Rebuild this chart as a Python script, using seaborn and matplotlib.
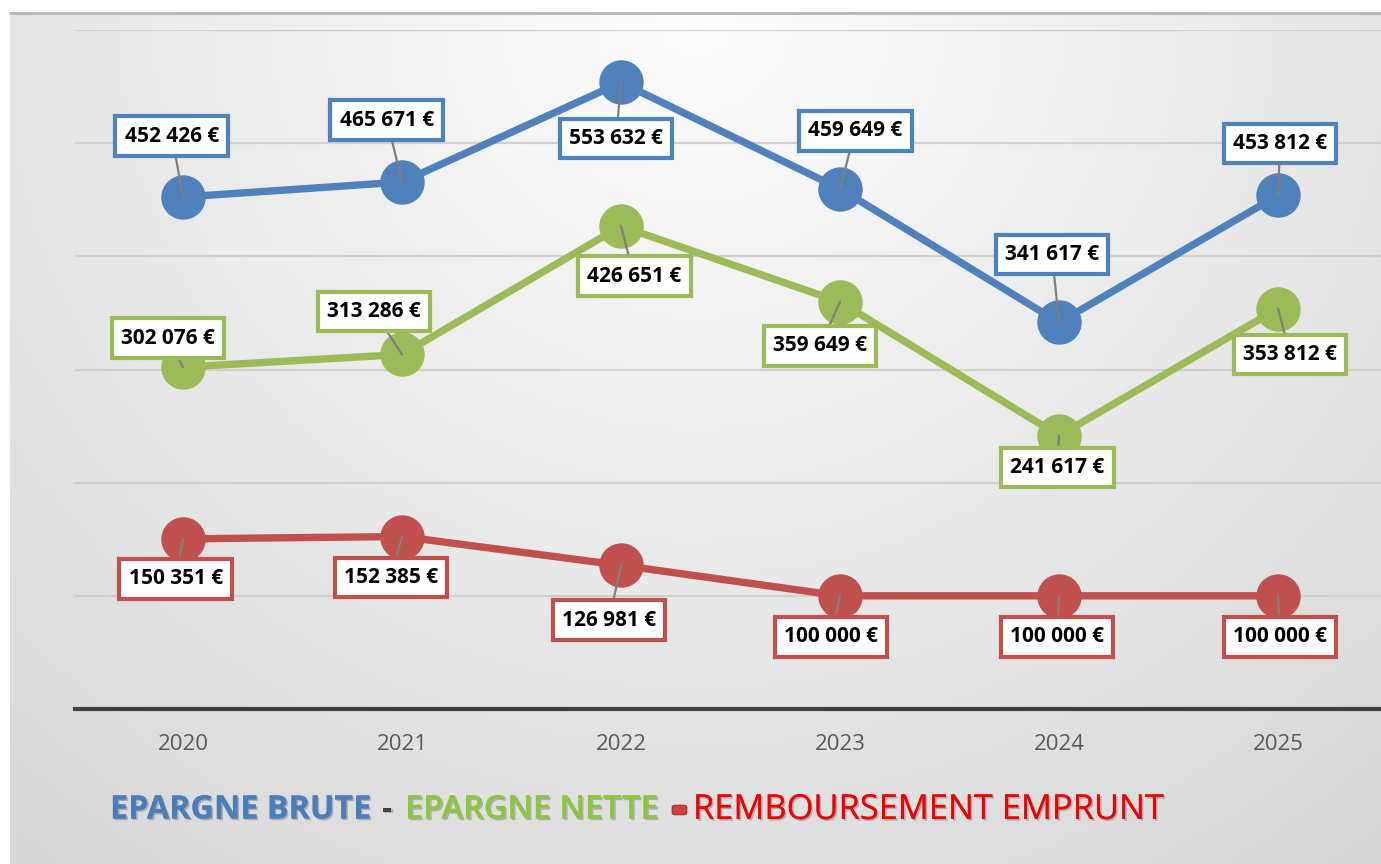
import numpy as np
import pandas as pd
import seaborn as sns
import matplotlib.pyplot as plt
from matplotlib import patheffects
from matplotlib.patches import FancyBboxPatch

# --- données ---
annees = [2020, 2021, 2022, 2023, 2024, 2025]
epargne_brute = [452426, 465671, 553632, 459649, 341617, 453812]
epargne_nette = [302076, 313286, 426651, 359649, 241617, 353812]
remboursement = [150351, 152385, 126981, 100000, 100000, 100000]

# décalage des étiquettes (pixels) par rapport au point
off_brute = [(-11, 61), (-15, 62), (-5, -56), (15, 58), (-7, 68), (2, 52)]
off_nette = [(-15, 29), (-28, 43), (13, -50), (-20, -44), (-2, -32), (12, -46)]
off_remb = [(-7, -40), (-11, -41), (-12, -55), (-9, -41), (-2, -41), (2, -41)]

BLEU, VERT, ROUGE = '#4F81BD', '#9BBB59', '#C0504D'

df = pd.DataFrame({'annee': annees, 'brute': epargne_brute,
                   'nette': epargne_nette, 'remb': remboursement})

sns.set_style('white')
plt.rcParams['font.family'] = ['Open Sans', 'DejaVu Sans']

fig = plt.figure(figsize=(13.81, 8.64), dpi=100)
fig.patch.set_facecolor('white')

# --- fond dégradé ---
W, H = 1381, 864
bg = fig.add_axes([10 / W, 0, 1 - 10 / W, (H - 14) / H], zorder=-10)
X, Y = np.meshgrid(np.linspace(0, 1, 300), np.linspace(1, 0, 200))
d = np.sqrt(((X - 0.5) / 0.8) ** 2 + ((Y - 1.0) / 1.25) ** 2)
g = np.clip(0.99 - 0.145 * d, 0.8, 1)
bg.imshow(np.dstack([g, g, g]), aspect='auto', extent=[0, 1, 0, 1])
bg.axis('off')
fig.add_artist(plt.Line2D([10 / W, 1], [1 - 13 / H, 1 - 13 / H], color='#b5b5b5', lw=2))

# --- graphique ---
ax = fig.add_axes([75 / W, (H - 709) / H, 1 - 75 / W, (709 - 30) / H])
ax.set_facecolor('none')

for col, color, offs in [('brute', BLEU, off_brute), ('nette', VERT, off_nette),
                         ('remb', ROUGE, off_remb)]:
    sns.lineplot(data=df, x='annee', y=col, color=color, linewidth=5.3,
                 marker='o', markersize=32, markeredgewidth=0, ax=ax)
    for x, v, (dx, dy) in zip(annees, df[col], offs):
        lab = f'{v:,.0f} €'.replace(',', ' ')
        ax.annotate(lab, xy=(x, v), xytext=(dx, dy), textcoords='offset pixels',
                    ha='center', va='center', fontsize=15, fontweight='bold',
                    color='black',
                    bbox=dict(boxstyle='square,pad=0.45', fc='white', ec=color, lw=3),
                    arrowprops=dict(arrowstyle='-', color='#7f7f7f', lw=1.6,
                                    shrinkA=0, shrinkB=0))

ax.set_xlim(2019.507, 2025.47)
ax.set_ylim(0, 600000)
ax.set_yticks(np.arange(0, 600001, 100000))
ax.set_yticklabels([])
ax.set_xticks(annees)
ax.set_xticklabels([str(a) for a in annees])
ax.tick_params(axis='x', length=0, pad=18, labelsize=16, labelcolor='#595959')
ax.tick_params(axis='y', length=0)
ax.grid(axis='y', color='#d0d0d0', lw=1.6)
ax.set_axisbelow(True)
ax.set_xlabel('')
ax.set_ylabel('')
for s in ['top', 'right', 'left']:
    ax.spines[s].set_visible(False)
ax.spines['bottom'].set_color('#404040')
ax.spines['bottom'].set_linewidth(3)

# --- légende texte ---
ombre = [patheffects.withSimplePatchShadow(offset=(1.2, -1.2), shadow_rgbFace='#555555', alpha=0.35),
         patheffects.Normal()]
ypos = (H - 810) / H
fig.text(110 / W, ypos, 'EPARGNE BRUTE', color='#4A7EBB', fontsize=23.3,
         fontweight='bold', ha='left', va='center', path_effects=ombre)
fig.text(387 / W, ypos, '-', color='#404040', fontsize=23.5,
         fontweight='bold', ha='center', va='center', path_effects=ombre)
fig.text(405 / W, ypos, 'EPARGNE NETTE', color='#8CC63F', fontsize=23.4,
         fontweight='semibold', ha='left', va='center', path_effects=ombre)
fig.add_artist(FancyBboxPatch((675 / W, ypos - 3 / H), 9 / W, 6 / H,
                              boxstyle='round,pad=0.002', transform=fig.transFigure,
                              fc='#d04040', ec='#a03030', lw=0.8))
fig.text(693 / W, ypos, 'REMBOURSEMENT EMPRUNT', color='#F00000', fontsize=24.8,
         fontweight='normal', ha='left', va='center', path_effects=ombre)

fig.savefig('out.png', dpi=100)
